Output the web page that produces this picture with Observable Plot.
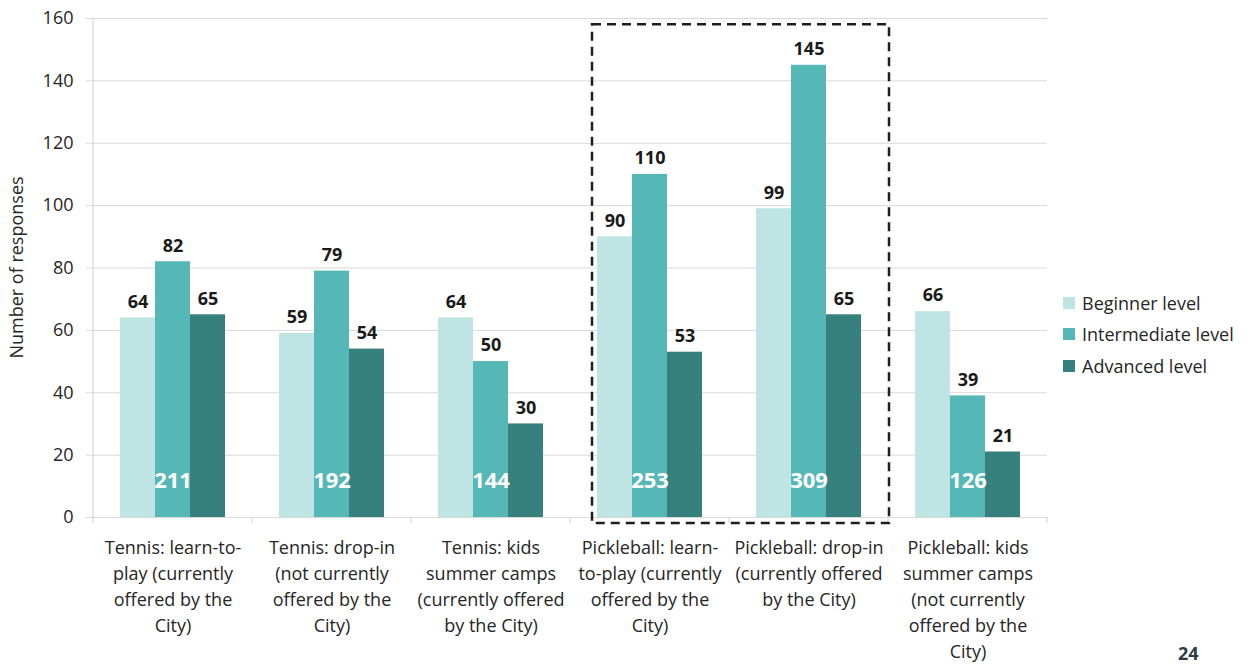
<!DOCTYPE html>
<html><head><meta charset="utf-8">
<script src="https://cdn.jsdelivr.net/npm/d3@7"></script>
<script src="https://cdn.jsdelivr.net/npm/@observablehq/plot@0.6"></script>
<style>
body{margin:0;background:#fff;font-family:'Open Sans',sans-serif;}
#wrap{position:relative;width:1252px;height:666px;overflow:hidden;}
.legend{position:absolute;left:1063px;top:287px;font-size:18px;color:#262626;}
.legend div{display:flex;align-items:center;height:31.5px;white-space:nowrap;}
.legend .sw{width:12px;height:12px;margin-right:7px;display:inline-block;}
.page{position:absolute;left:1178px;top:644px;font-weight:700;font-size:18px;line-height:18px;color:#2d3a48;}
</style></head><body><div id="wrap"></div>
<script>
const categories = [
  "Tennis: learn-to-play (currently offered by the City)",
  "Tennis: drop-in (not currently offered by the City)",
  "Tennis: kids summer camps (currently offered by the City)",
  "Pickleball: learn-to-play (currently offered by the City)",
  "Pickleball: drop-in (currently offered by the City)",
  "Pickleball: kids summer camps (not currently offered by the City)"
];
const categoryLabels = [
  "Tennis: learn-to-\nplay (currently\noffered by the\nCity)",
  "Tennis: drop-in\n(not currently\noffered by the\nCity)",
  "Tennis: kids\nsummer camps\n(currently offered\nby the City)",
  "Pickleball: learn-\nto-play (currently\noffered by the\nCity)",
  "Pickleball: drop-in\n(currently offered\nby the City)",
  "Pickleball: kids\nsummer camps\n(not currently\noffered by the\nCity)"
];
const levels = ["Beginner level", "Intermediate level", "Advanced level"];
const beginner = [64, 59, 64, 90, 99, 66];
const intermediate = [82, 79, 50, 110, 145, 39];
const advanced = [65, 54, 30, 53, 65, 21];
const colors = ["#bee4e3", "#56b8b6", "#36807d"];
const yTicks = [0, 20, 40, 60, 80, 100, 120, 140, 160];
const highlighted = [categories[3], categories[4]];
const yLabel = "Number of responses";
const pageNumber = "24";

const series = [beginner, intermediate, advanced];
const rows = [];
categories.forEach((c, i) => levels.forEach((l, j) => rows.push({category: c, level: l, value: series[j][i]})));
const totals = categories.map((c, i) => ({category: c, total: beginner[i] + intermediate[i] + advanced[i]}));
const labelOf = new Map(categories.map((c, i) => [c, categoryLabels[i]]));

const chart = Plot.plot({
  width: 1252,
  height: 666,
  marginTop: 18,
  marginBottom: 149,
  marginLeft: 92,
  marginRight: 205,
  style: {fontFamily: "'Open Sans', sans-serif", fontSize: "18px", color: "#262626", background: "white"},
  fx: {domain: categories, padding: 0},
  x: {domain: levels, paddingInner: 0, paddingOuter: 0.74, axis: null},
  y: {domain: [0, 160]},
  color: {domain: levels, range: colors},
  marks: [
    Plot.gridY(yTicks, {stroke: "#d9d9d9", strokeOpacity: 1}),
    Plot.axisY(yTicks, {tickSize: 7, tickPadding: 13, stroke: "#d9d9d9", strokeOpacity: 1, fill: "#262626", fontSize: 18, label: null}),
    Plot.barY(rows, {fx: "category", x: "level", y: "value", fill: "level"}),
    Plot.ruleY([0], {stroke: "#d9d9d9"}),
    Plot.text(rows, {fx: "category", x: "level", y: "value", text: "value", dy: -16, fontWeight: "bold", fontSize: 18, fill: "#1a1a1a"}),
    Plot.text(totals, {fx: "category", x: () => levels[1], text: "total", frameAnchor: "bottom", dy: -30, fill: "white", fontWeight: "bold", fontSize: 22}),
    Plot.axisFx({anchor: "bottom", tickSize: 0, tickPadding: 18, tickFormat: c => labelOf.get(c), lineHeight: 1.45, label: null, fontSize: 18, fill: "#262626"})
  ]
});

const wrap = document.getElementById("wrap");
wrap.appendChild(chart);

const svg = d3.select(chart);
const fx = chart.scale("fx"), y = chart.scale("y"), xs = chart.scale("x");
const bw = fx.bandwidth;
const x0 = fx.apply(categories[0]);
svg.append("line").attr("x1", x0).attr("x2", x0).attr("y1", y.apply(160)).attr("y2", y.apply(0))
  .attr("stroke", "#d0d0d0");
const bounds = categories.map(c => fx.apply(c)).concat([fx.apply(categories[categories.length - 1]) + bw]);
bounds.forEach(b => svg.append("line").attr("x1", b).attr("x2", b).attr("y1", y.apply(0)).attr("y2", y.apply(0) + 6).attr("stroke", "#d0d0d0"));
svg.append("text").attr("transform", `translate(23,${(y.apply(0) + y.apply(160)) / 2}) rotate(-90)`)
  .attr("text-anchor", "middle").attr("font-size", 18).attr("fill", "#262626").text(yLabel);
const barOffset = xs.apply(levels[0]) - x0;
const bx1 = fx.apply(highlighted[0]) + barOffset - 4;
const bx2 = fx.apply(highlighted[1]) + bw + 1;
svg.append("rect").attr("x", bx1).attr("y", y.apply(158)).attr("width", bx2 - bx1).attr("height", y.apply(0) + 6 - y.apply(158))
  .attr("fill", "none").attr("stroke", "#1f1f1f").attr("stroke-width", 2.5).attr("stroke-dasharray", "9,6");

const legend = document.createElement("div");
legend.className = "legend";
levels.forEach((l, i) => {
  const row = document.createElement("div");
  const sw = document.createElement("span");
  sw.className = "sw"; sw.style.background = colors[i];
  row.appendChild(sw);
  row.appendChild(document.createTextNode(l));
  legend.appendChild(row);
});
wrap.appendChild(legend);
const page = document.createElement("div");
page.className = "page"; page.textContent = pageNumber;
wrap.appendChild(page);
</script>
</body></html>
